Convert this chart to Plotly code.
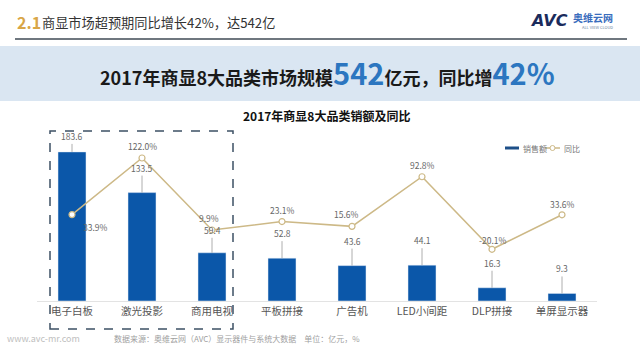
import plotly.graph_objects as go

categories = ["电子白板", "激光投影", "商用电视", "平板拼接", "广告机", "LED小间距", "DLP拼接", "单屏显示器"]
sales = [183.6, 133.5, 59.4, 52.8, 43.6, 44.1, 16.3, 9.3]
yoy = [33.9, 122.0, 9.9, 23.1, 15.6, 92.8, -20.1, 33.6]
yoy_labels = ["33.9%", "122.0%", "9.9%", "23.1%", "15.6%", "92.8%", "-20.1%", "33.6%"]

W, H = 640, 360
def px(x): return x / W
def py(y): return 1 - y / H

BAR = "#0b57a9"
LINE = "#cdb987"
FONT = "Noto Sans CJK SC"

fig = go.Figure()
fig.add_trace(go.Bar(x=categories, y=sales, name="销售额", marker_color=BAR,
                     width=0.4, yaxis="y"))
fig.add_trace(go.Scatter(x=categories, y=yoy, name="同比", mode="lines+markers",
                         line=dict(color=LINE, width=1.5),
                         marker=dict(size=6, color="white", line=dict(color=LINE, width=1.2)),
                         yaxis="y2"))

ann = []
# bar value labels with leader lines
bar_ay = [-8, -17, -15, -17, -17, -17, -17, -17]
for c, v, a in zip(categories, sales, bar_ay):
    ann.append(dict(x=c, y=v, xref="x", yref="y", text=f"{v:.1f}", showarrow=True,
                    arrowhead=0, arrowwidth=0.8, arrowcolor="#999", ax=0,
                    ay=a, yanchor="bottom",
                    font=dict(size=8.5, color="#666", family=FONT)))
# line labels
offs = [(23, -12), (0, 12), (-3, 12), (0, 12), (-6, 12), (0, 12), (0, 9), (0, 11)]
for c, v, t, (dx, dy) in zip(categories, yoy, yoy_labels, offs):
    ann.append(dict(x=c, y=v, xref="x", yref="y2", text=t, showarrow=False,
                    xanchor="center", yanchor="middle",
                    xshift=dx, yshift=dy, font=dict(size=8.5, color="#666", family=FONT)))

def txt(x, y, text, size, color, family=FONT, anchor="left"):
    return dict(x=px(x), y=py(y), xref="paper", yref="paper", text=text, showarrow=False,
                xanchor=anchor, yanchor="middle", font=dict(size=size, color=color, family=family))

# header and other texts
ann += [
    txt(15, 22, "<b>2.1</b>", 16, "#d9a647"),
    txt(40, 22, "商显市场超预期同比增长42%，达542亿", 13.2, "#333"),
    txt(528, 20, "<b><i>AVC</i></b>", 16, "#1b2b5c", "DejaVu Sans"),
    txt(571, 17, "<b>奥维云网</b>", 10, "#3a6dbd"),
    txt(580, 27, "ALL VIEW CLOUD", 4, "#6a7fa0"),
    txt(327, 72, "<b>2017年商显8大品类市场规模<span style='font-size:29px;color:#2c76c0'>542</span>亿元，同比增<span style='font-size:29px;color:#2c76c0'>42%</span></b>",
        18, "#1a1a1a", anchor="center"),
    txt(326, 116, "<b>2017年商显8大品类销额及同比</b>", 12, "#111", anchor="center"),
    txt(5, 338, "www.avc-mr.com", 9, "#c0c0c0"),
    txt(112, 338, "数据来源：奥维云网（AVC）显示器件与系统大数据　单位：亿元，%", 8, "#a0a0a0"),
    txt(521, 148, "销售额", 8, "#777"),
    txt(562, 148, "同比", 8, "#777"),
]

shapes = [
    dict(type="line", xref="paper", yref="paper", x0=px(15), x1=px(627), y0=py(39), y1=py(39),
         line=dict(color="#3f4a55", width=1.5)),
    dict(type="rect", xref="paper", yref="paper", x0=0, x1=1, y0=py(101), y1=py(46),
         fillcolor="#dae6f2", line=dict(width=0), layer="below"),
    dict(type="rect", xref="paper", yref="paper", x0=px(50), x1=px(233), y0=py(329), y1=py(131),
         line=dict(color="#3d5064", width=1.5, dash="dash")),
    # legend swatches
    dict(type="rect", xref="paper", yref="paper", x0=px(505), x1=px(519), y0=py(149.5), y1=py(146.5),
         fillcolor="#1d4f88", line=dict(width=0)),
    dict(type="line", xref="paper", yref="paper", x0=px(545), x1=px(560), y0=py(148), y1=py(148),
         line=dict(color=LINE, width=1.5)),
    dict(type="circle", xref="paper", yref="paper", x0=px(550), x1=px(555), y0=py(150.5), y1=py(145.5),
         fillcolor="white", line=dict(color=LINE, width=1)),
]

fig.update_layout(
    width=W, height=H, margin=dict(l=0, r=0, t=0, b=0),
    paper_bgcolor="white", plot_bgcolor="rgba(0,0,0,0)",
    font=dict(family=FONT, color="#555"),
    xaxis=dict(domain=[px(37), px(597)], showgrid=False, showline=True, linecolor="#e3e3e3",
               linewidth=1, ticks="", tickfont=dict(size=10.5, color="#555", family=FONT)),
    yaxis=dict(domain=[py(301), py(130)], range=[0, 210.6], visible=False),
    yaxis2=dict(domain=[py(301), py(130)], range=[-100.6, 165.6], overlaying="y", visible=False),
    showlegend=False, bargap=0.6,
    annotations=ann, shapes=shapes,
)
fig.write_html("out.html", config={"displayModeBar": False},
               post_script="document.body.style.margin='0';document.body.style.overflow='hidden';")
